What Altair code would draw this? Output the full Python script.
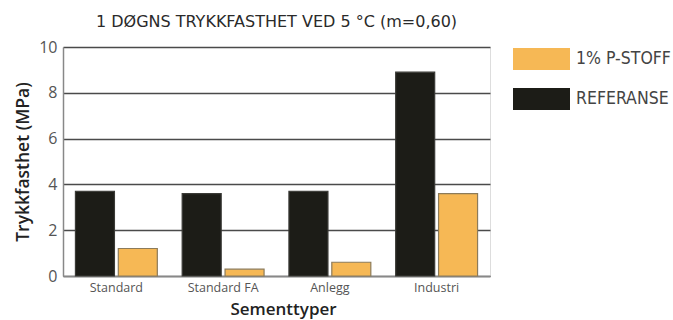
import altair as alt
import pandas as pd

# Cement types on the x axis
categories = ["Standard", "Standard FA", "Anlegg", "Industri"]
# 1-day compressive strength (MPa) at 5 °C, w/c = 0.60
referanse = [3.7, 3.6, 3.7, 8.9]
p_stoff = [1.2, 0.3, 0.6, 3.6]

series_names = ["1% P-STOFF", "REFERANSE"]
series_colors = ["#F6B855", "#1C1C17"]
series_strokes = ["#8C7B5A", "#3A3A36"]

rows = []
for c, r, p in zip(categories, referanse, p_stoff):
    rows.append({"Sementtype": c, "Serie": "REFERANSE", "Verdi": r})
    rows.append({"Sementtype": c, "Serie": "1% P-STOFF", "Verdi": p})
df = pd.DataFrame(rows)

# wide rectangular swatch for the legend
rect_path = "M-1,-0.39L1,-0.39L1,0.39L-1,0.39Z"

bars = alt.Chart(df).mark_bar(strokeWidth=1.2).encode(
    x=alt.X(
        "Sementtype:N",
        sort=categories,
        scale=alt.Scale(paddingInner=0, paddingOuter=0),
        axis=alt.Axis(
            title="Sementtyper",
            labelAngle=0,
            labelFont="Open Sans",
            labelFontSize=12.5,
            labelColor="#555555",
            labelPadding=5,
            titleFont="Open Sans",
            titleFontSize=17,
            titleFontWeight=600,
            titleColor="#222222",
            titlePadding=8,
            titleX=220,
            ticks=False,
            domainColor="#888888",
            domainWidth=1.5,
        ),
    ),
    xOffset=alt.XOffset(
        "Serie:N",
        sort=["REFERANSE", "1% P-STOFF"],
        scale=alt.Scale(paddingInner=0.09, paddingOuter=0.29),
    ),
    y=alt.Y(
        "Verdi:Q",
        scale=alt.Scale(domain=[0, 10], nice=False),
        axis=alt.Axis(
            title="Trykkfasthet  (MPa)",
            values=[0, 2, 4, 6, 8, 10],
            labelFont="Open Sans",
            labelFontSize=16,
            labelColor="#555555",
            labelPadding=6,
            titleFont="Open Sans",
            titleFontSize=17.5,
            titleFontWeight=600,
            titleColor="#222222",
            titlePadding=6,
            ticks=False,
            grid=True,
            gridColor="#4A4A4A",
            gridWidth=1.5,
            domainColor="#888888",
            domainWidth=1.5,
        ),
    ),
    color=alt.Color(
        "Serie:N",
        scale=alt.Scale(domain=series_names, range=series_colors),
        legend=alt.Legend(
            title=None,
            orient="none",
            legendX=450,
            legendY=-16.5,
            symbolType=rect_path,
            symbolSize=3249,
            symbolStrokeWidth=0,
            symbolOpacity=1,
            labelFont="DejaVu Sans Condensed",
            labelFontSize=17.5,
            labelColor="#444444",
            labelOffset=6,
            rowPadding=-22.5,
        ),
    ),
    stroke=alt.Stroke(
        "Serie:N",
        scale=alt.Scale(domain=series_names, range=series_strokes),
        legend=None,
    ),
)

chart = bars.properties(
    width=427,
    height=229,
    autosize=alt.AutoSizeParams(type="none"),
    padding={"left": 63, "top": 47, "right": 183, "bottom": 44},
    title=alt.TitleParams(
        "1 DØGNS TRYKKFASTHET VED 5 °C (m=0,60)",
        font="DejaVu Sans",
        fontSize=16,
        fontWeight="normal",
        color="#2A2A2A",
        anchor="middle",
        offset=1,
    ),
).configure_view(
    stroke="#888888",
    strokeWidth=1.5,
).configure(background="white")

chart.save("out.html", embed_options={"renderer": "svg", "actions": False})
